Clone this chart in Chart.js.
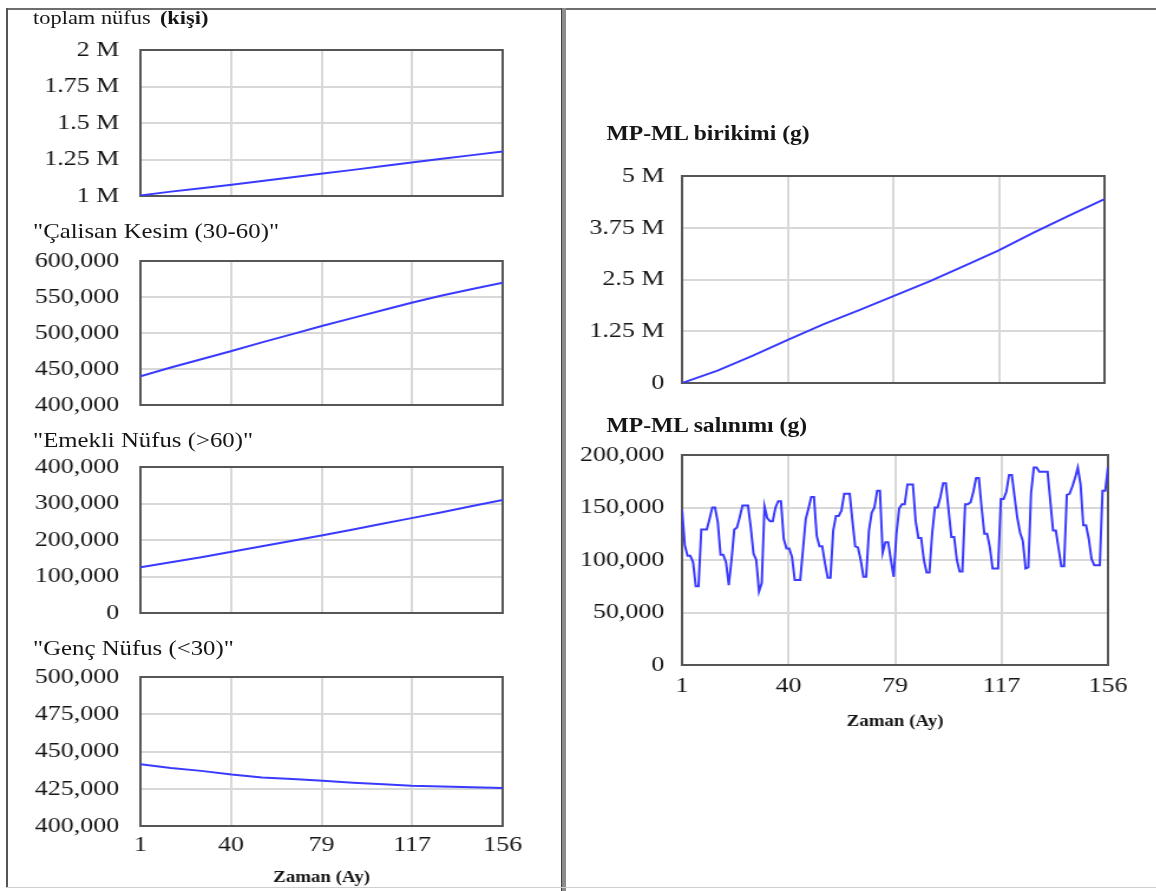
<!DOCTYPE html>
<html>
<head>
<meta charset="utf-8">
<script src="https://cdn.jsdelivr.net/npm/chart.js@4.4.1/dist/chart.umd.min.js"></script>
<style>
  html, body { margin: 0; padding: 0; background: #fff; }
  body { width: 1156px; height: 891px; position: relative; overflow: hidden; font-family: "Liberation Serif", "Times New Roman", serif; }
  /* the reference is stretched sideways, so the whole page is drawn narrower and scaled */
  #page { position: absolute; left: 0; top: 0; width: 980px; height: 891px; transform: scaleX(1.18); transform-origin: 0 0; }
  canvas { position: absolute; }
  .title { position: absolute; font-size: 21px; line-height: 24px; color: #161616; white-space: nowrap; }
  .bold { font-weight: bold; }
  .rule { position: absolute; }
</style>
</head>
<body>
<div class="rule" style="left:6px;top:8px;width:1150px;height:2px;background:#6e6e6e"></div>
<div class="rule" style="left:6px;top:8px;width:2px;height:880px;background:#555"></div>
<div class="rule" style="left:561px;top:8px;width:4px;height:883px;background:#8c8c8c;border-left:1px solid #444"></div>
<div class="rule" style="left:6px;top:887px;width:1150px;height:1px;background:#cfcfcf"></div>

<div id="page">
  <div class="title" style="left:28px;top:6px;font-size:19px">toplam nüfus <span class="bold" style="font-size:19px;margin-left:3px">(kişi)</span></div>
  <div class="title" style="left:28px;top:219px">"Çalisan Kesim (30-60)"</div>
  <div class="title" style="left:28px;top:428px">"Emekli Nüfus (&gt;60)"</div>
  <div class="title" style="left:28px;top:636px">"Genç Nüfus (&lt;30)"</div>
  <div class="title bold" style="left:514px;top:121px;font-size:20px">MP-ML birikimi (g)</div>
  <div class="title bold" style="left:514px;top:413px;font-size:20px">MP-ML salınımı (g)</div>

  <canvas id="c1" width="440" height="174" style="left:8px;top:36px"></canvas>
  <canvas id="c2" width="440" height="172" style="left:8px;top:247px"></canvas>
  <canvas id="c3" width="440" height="174" style="left:8px;top:453px"></canvas>
  <canvas id="c4" width="440" height="228" style="left:8px;top:663px"></canvas>
  <canvas id="c5" width="497" height="235" style="left:483px;top:162px"></canvas>
  <canvas id="c6" width="497" height="294" style="left:483px;top:441px"></canvas>
</div>

<script>
// months where the smooth curves were read
const months = [1, 14, 27, 40, 53, 66, 79, 92, 105, 117, 130, 143, 156];
const toplamNufus = [1004000, 1030000, 1053500, 1077500, 1102500, 1128000, 1153500, 1179000, 1205000, 1229000, 1254500, 1280000, 1305500];
const calisanKesim = [440000, 452000, 463500, 475000, 487000, 498500, 510000, 521000, 532000, 542000, 552000, 561000, 570000];
const emekliNufus = [125000, 139000, 153000, 168000, 183000, 198000, 213000, 229000, 245000, 260000, 276000, 293000, 310000];
const gencNufus = [441500, 439000, 437000, 434500, 432500, 431500, 430300, 429000, 428000, 427000, 426500, 426000, 425500];
const birikim = [0, 300000, 660000, 1050000, 1420000, 1760000, 2110000, 2460000, 2840000, 3200000, 3630000, 4040000, 4440000];

// monthly release, months 1..156
const salinim = [
  148000, 114000, 104000, 104000, 98000, 75000, 75000, 129000, 129000, 129000, 139000, 150000,
  150000, 136000, 105000, 105000, 98000, 76000, 100000, 129000, 131000, 141000, 152000, 152000,
  152000, 131000, 106000, 100000, 70000, 78000, 151000, 140000, 137000, 137000, 150000, 156000,
  156000, 120000, 111000, 111000, 103000, 81000, 81000, 81000, 110000, 139000, 149000, 160000,
  160000, 123000, 113000, 113000, 97000, 83000, 83000, 128000, 142000, 142000, 147000, 163000,
  163000, 163000, 137000, 113000, 112000, 100000, 84000, 84000, 128000, 145000, 150000, 166000,
  166000, 107000, 117000, 117000, 100000, 84000, 125000, 149000, 153000, 153000, 172000, 172000,
  172000, 137000, 121000, 121000, 100000, 88000, 88000, 125000, 150000, 150000, 160000, 173000,
  173000, 147000, 122000, 122000, 100000, 89000, 89000, 153000, 153000, 155000, 165000, 178000,
  178000, 150000, 125000, 125000, 112000, 92000, 92000, 92000, 158000, 158000, 165000, 181000,
  181000, 160000, 140000, 126000, 118000, 92000, 93000, 164000, 188000, 188000, 184000, 184000,
  184000, 184000, 156000, 128000, 128000, 111000, 94000, 94000, 162000, 163000, 170000, 178000,
  188000, 172000, 133000, 133000, 120000, 101000, 95000, 95000, 95000, 166000, 166000, 189000
];
const salinimMonths = salinim.map((v, i) => i + 1);

const xTicks = [1, 39.75, 78.5, 117.25, 156];
const xTickLabels = ['1', '40', '79', '117', '156'];

const toplamTicks = [1000000, 1250000, 1500000, 1750000, 2000000];
const toplamLabels = ['1 M', '1.25 M', '1.5 M', '1.75 M', '2 M'];
const calisanTicks = [400000, 450000, 500000, 550000, 600000];
const calisanLabels = ['400,000', '450,000', '500,000', '550,000', '600,000'];
const emekliTicks = [0, 100000, 200000, 300000, 400000];
const emekliLabels = ['0', '100,000', '200,000', '300,000', '400,000'];
const gencTicks = [400000, 425000, 450000, 475000, 500000];
const gencLabels = ['400,000', '425,000', '450,000', '475,000', '500,000'];
const birikimTicks = [0, 1250000, 2500000, 3750000, 5000000];
const birikimLabels = ['0', '1.25 M', '2.5 M', '3.75 M', '5 M'];
const salinimTicks = [0, 50000, 100000, 150000, 200000];
const salinimLabels = ['0', '50,000', '100,000', '150,000', '200,000'];

const fontFamily = '"Liberation Serif", "Times New Roman", serif';
const textColor = '#161616';
const gridColor = '#d8d8d8';
const lineColor = '#3a3aff';
const tickSize = 22;

// dark box round the plot area
const frame = {
    id: 'frame',
    beforeDatasetsDraw(chart) {
        const { ctx, chartArea: a } = chart;
        ctx.save();
        ctx.strokeStyle = '#565656';
        ctx.lineWidth = 2;
        ctx.strokeRect(a.left, a.top, a.right - a.left, a.bottom - a.top);
        ctx.restore();
    }
};

// label gaps are made with invisible tick marks, so they don't eat into the plot height
function drawChart(id, xs, ys, yTicks, yLabels, o) {
    new Chart(document.getElementById(id), {
        type: 'line',
        data: {
            datasets: [{
                data: xs.map((x, i) => ({ x: x, y: ys[i] })),
                borderColor: lineColor,
                borderWidth: 2,
                pointRadius: 0,
                tension: 0
            }]
        },
        options: {
            responsive: false,
            animation: false,
            devicePixelRatio: 1,
            layout: { padding: o.padding },
            plugins: { legend: { display: false }, tooltip: { enabled: false } },
            scales: {
                x: {
                    type: 'linear',
                    min: 1,
                    max: 156,
                    afterBuildTicks: axis => { axis.ticks = xTicks.map(v => ({ value: v })); },
                    afterFit: axis => { axis.height = o.xHeight; },
                    grid: { color: gridColor, lineWidth: 2, drawTicks: o.showX, tickLength: o.xPad || 0, tickColor: 'rgba(0,0,0,0)' },
                    border: { display: false },
                    ticks: {
                        display: o.showX,
                        padding: 0,
                        color: textColor,
                        font: { family: fontFamily, size: tickSize },
                        maxRotation: 0,
                        autoSkip: false,
                        callback: (v, i) => xTickLabels[i]
                    },
                    title: {
                        display: o.showX,
                        text: 'Zaman (Ay)',
                        color: textColor,
                        font: { family: fontFamily, size: 16, weight: 'bold' },
                        padding: { top: 4, bottom: 4 }
                    }
                },
                y: {
                    min: yTicks[0],
                    max: yTicks[yTicks.length - 1],
                    afterBuildTicks: axis => { axis.ticks = yTicks.map(v => ({ value: v })); },
                    afterFit: axis => { axis.width = o.yWidth; },
                    grid: { color: gridColor, lineWidth: 2, drawTicks: true, tickLength: o.yPad, tickColor: 'rgba(0,0,0,0)' },
                    border: { display: false },
                    ticks: {
                        padding: 0,
                        color: textColor,
                        font: { family: fontFamily, size: tickSize },
                        callback: (v, i) => yLabels[i]
                    }
                }
            }
        },
        plugins: [frame]
    });
}

const leftBox = { yWidth: 111, yPad: 18 };
drawChart('c1', months, toplamNufus, toplamTicks, toplamLabels,
    Object.assign({ padding: { top: 14, bottom: 14, left: 0, right: 22 }, xHeight: 0, showX: false }, leftBox));
drawChart('c2', months, calisanKesim, calisanTicks, calisanLabels,
    Object.assign({ padding: { top: 14, bottom: 14, left: 0, right: 22 }, xHeight: 0, showX: false }, leftBox));
drawChart('c3', months, emekliNufus, emekliTicks, emekliLabels,
    Object.assign({ padding: { top: 14, bottom: 14, left: 0, right: 22 }, xHeight: 0, showX: false }, leftBox));
drawChart('c4', months, gencNufus, gencTicks, gencLabels,
    Object.assign({ padding: { top: 14, bottom: 0, left: 0, right: 22 }, xHeight: 65, xPad: 6, showX: true }, leftBox));

const rightBox = { yWidth: 95, yPad: 15 };
drawChart('c5', months, birikim, birikimTicks, birikimLabels,
    Object.assign({ padding: { top: 14, bottom: 14, left: 0, right: 44 }, xHeight: 0, showX: false }, rightBox));
drawChart('c6', salinimMonths, salinim, salinimTicks, salinimLabels,
    Object.assign({ padding: { top: 14, bottom: 0, left: 0, right: 41 }, xHeight: 70, xPad: 8, showX: true }, rightBox));
</script>
</body>
</html>
